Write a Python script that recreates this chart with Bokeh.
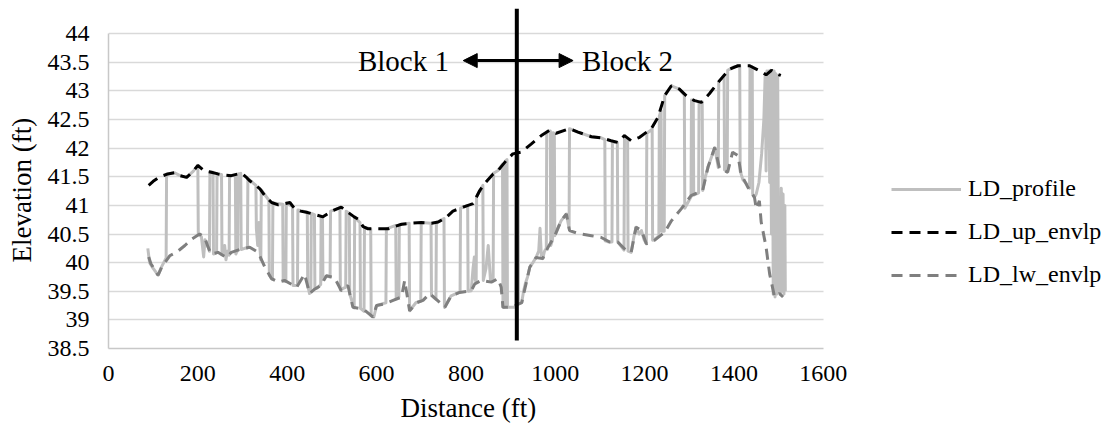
from bokeh.plotting import figure
from bokeh.models import (Range1d, FixedTicker, Legend, LegendItem, Arrow,
                          NormalHead, Label, Title)
from bokeh.embed import file_html
from bokeh.resources import INLINE

# ---------------- data ----------------
up_x = [90, 100, 115, 133, 148, 160, 175, 190, 200, 215, 230, 245, 260, 275, 290,
        298, 310, 316, 330, 339, 350, 365, 380, 395, 406, 417, 430, 443, 462, 480,
        490, 503, 521, 536, 550, 559, 570, 581, 603, 626, 640, 656, 678, 700, 723,
        738, 756, 771, 797, 816, 831, 842, 861, 872, 890, 905, 924, 946, 969, 987,
        1002, 1032, 1051, 1081, 1103, 1125, 1140, 1155, 1170, 1189, 1215, 1230,
        1245, 1260, 1278, 1297, 1312, 1327, 1345, 1368, 1390, 1409, 1435, 1450,
        1465, 1472, 1484, 1495, 1505]
up_y = [41.35, 41.42, 41.5, 41.55, 41.57, 41.52, 41.49, 41.6, 41.7, 41.6, 41.58,
        41.55, 41.53, 41.52, 41.55, 41.56, 41.48, 41.43, 41.35, 41.29, 41.17, 41.05,
        41.01, 41.03, 41.05, 40.94, 40.9, 40.88, 40.84, 40.8, 40.85, 40.91, 40.97,
        40.88, 40.8, 40.76, 40.63, 40.59, 40.59, 40.59, 40.63, 40.67, 40.69, 40.7,
        40.69, 40.71, 40.79, 40.9, 40.98, 41.03, 41.26, 41.38, 41.55, 41.61, 41.78,
        41.9, 41.93, 42.07, 42.22, 42.31, 42.26, 42.34, 42.28, 42.2, 42.18, 42.13,
        42.1, 42.22, 42.13, 42.19, 42.34, 42.54, 42.92, 43.09, 43.03, 42.89, 42.83,
        42.8, 42.95, 43.18, 43.38, 43.44, 43.44, 43.38, 43.32, 43.28, 43.36, 43.3,
        43.27]

lw_x = [90, 95, 100, 111, 119, 137, 152, 171, 186, 204, 215, 223, 230, 245, 264,
        275, 298, 316, 335, 350, 365, 380, 394, 410, 421, 439, 450, 462, 475, 488,
        506, 521, 536, 547, 570, 592, 600, 618, 637, 656, 663, 674, 690, 704, 719,
        735, 753, 767, 786, 812, 820, 835, 857, 872, 879, 883, 902, 925, 943, 957,
        972, 984, 999, 1013, 1025, 1032, 1051, 1081, 1103, 1122, 1140, 1159, 1170,
        1181, 1193, 1204, 1222, 1245, 1260, 1282, 1304, 1330, 1342, 1357, 1368,
        1386, 1397, 1409, 1416, 1431, 1446, 1450, 1457, 1461, 1472, 1480, 1491,
        1502, 1510]
lw_y = [40.1, 39.98, 39.92, 39.78, 39.92, 40.12, 40.18, 40.3, 40.41, 40.5, 40.44,
        40.27, 40.15, 40.18, 40.09, 40.18, 40.24, 40.27, 40.18, 39.92, 39.72, 39.66,
        39.69, 39.62, 39.57, 39.8, 39.46, 39.54, 39.6, 39.77, 39.74, 39.51, 39.6,
        39.22, 39.19, 39.05, 39.25, 39.28, 39.34, 39.4, 39.69, 39.16, 39.3, 39.34,
        39.46, 39.35, 39.22, 39.42, 39.48, 39.51, 39.63, 39.69, 39.66, 39.72, 39.57,
        39.22, 39.22, 39.3, 39.92, 40.09, 40.07, 40.27, 40.47, 40.73, 40.85, 40.56,
        40.51, 40.47, 40.44, 40.36, 40.36, 40.21, 40.18, 40.62, 40.56, 40.33, 40.39,
        40.53, 40.73, 40.94, 41.17, 41.26, 41.67, 42.01, 41.64, 41.58, 41.93, 41.87,
        41.55, 41.32, 41.14, 40.94, 41.08, 40.71, 40.27, 39.8, 39.4, 39.46, 39.4]

prof_x = [88, 92, 100, 111, 119, 129, 130, 148, 160, 175, 190, 200, 201, 208, 213,
          216, 222, 226, 227, 234, 235, 242, 243, 253, 254, 260, 263, 266, 270, 271,
          284, 285, 289, 290, 296, 297, 305, 311, 312, 330, 331, 334, 337, 339, 341,
          342, 359, 360, 367, 368, 390, 391, 397, 398, 412, 413, 423, 424, 445, 446,
          450, 453, 454, 461, 462, 468, 475, 476, 479, 480, 488, 496, 497, 506, 518,
          519, 525, 531, 532, 539, 540, 546, 550, 551, 563, 564, 572, 573, 587, 588,
          594, 600, 612, 621, 622, 643, 644, 650, 651, 673, 674, 688, 699, 700, 722,
          723, 733, 734, 751, 752, 767, 787, 788, 804, 805, 812, 816, 819, 821, 823,
          824, 838, 839, 845, 850, 855, 861, 862, 872, 882, 883, 887, 888, 892, 893,
          911, 912, 917,
          918, 925, 929, 933, 938, 943, 950, 957, 963, 966, 969, 972, 976, 980, 981,
          989, 990, 994, 995, 998, 999, 1006, 1013, 1020, 1025, 1031, 1032, 1051,
          1081, 1103, 1111, 1112, 1120, 1127, 1128, 1139, 1140, 1148, 1154, 1155,
          1162, 1163, 1170, 1176, 1181, 1188, 1193, 1199, 1204, 1205, 1217, 1218,
          1225, 1232, 1233, 1237, 1238, 1244, 1245, 1260, 1278, 1289, 1290, 1297,
          1304, 1305, 1309, 1310, 1316, 1321, 1322, 1329, 1330, 1336, 1342, 1350,
          1357, 1362, 1365, 1366, 1378, 1379, 1385, 1386, 1400, 1413, 1414, 1420,
          1428, 1435, 1436, 1441, 1442, 1446, 1450, 1456, 1462, 1467, 1470, 1472,
          1474, 1476, 1478, 1480, 1482, 1484, 1486, 1488, 1490, 1492, 1494, 1496,
          1498, 1500, 1502, 1504, 1506, 1508, 1510, 1512, 1514, 1515]
prof_y = [40.25, 40.0, 39.9, 39.78, 39.93, 40.08, 41.55, 41.57, 41.52, 41.49, 41.6,
          41.7, 40.5, 40.45, 40.1, 40.4, 40.3, 40.2, 41.59, 41.58, 40.15, 40.17,
          41.55, 41.54, 40.14, 40.3, 40.05, 40.2, 40.13, 41.52, 41.53, 40.15, 40.22,
          41.55, 41.56, 40.23, 40.25, 40.26, 41.47, 41.35, 40.6, 40.3, 40.7, 40.25,
          40.05, 41.27, 41.09, 39.78, 39.71, 41.04, 41.02, 39.68, 39.67, 41.04,
          40.98, 39.6, 39.6, 40.92, 40.88, 39.6, 39.46, 39.5, 40.86, 40.84, 39.54,
          39.56, 39.62, 40.81, 40.8, 39.7, 39.77, 39.75, 40.9, 40.92, 40.96, 39.52,
          39.55, 39.57, 40.9, 40.86, 39.45, 39.3, 39.21, 40.79, 40.7, 39.2, 39.15,
          40.62, 40.59, 39.07, 39.05, 39.25, 39.28, 39.3, 40.59, 40.65, 39.37, 39.4,
          40.66, 40.69, 39.16, 39.3, 39.33, 40.7, 40.69, 39.43, 39.36, 40.7, 40.77,
          39.22, 39.42, 39.49, 40.95, 41.0, 39.5, 39.51, 39.9, 40.1, 39.7, 39.65,
          41.15, 41.35, 39.69, 39.9, 40.3, 39.7, 39.68, 41.56, 41.61, 41.72, 39.22,
          39.22, 41.77, 41.8, 39.22, 39.22, 41.91, 41.92,
          39.3, 39.3, 39.5, 39.63, 39.75, 39.92, 40.0, 40.09, 40.2, 40.6, 40.1,
          40.07, 40.2, 40.25, 42.28, 42.3, 40.3, 40.4, 42.27, 42.26, 40.47, 40.6,
          40.73, 40.8, 40.85, 40.6, 42.34, 42.28, 42.2, 42.18, 42.15, 40.38, 40.36,
          40.36, 42.12, 42.1, 40.36, 40.28, 40.22, 42.22, 42.15, 40.2, 40.18, 40.45,
          40.62, 40.5, 40.56, 40.4, 40.33, 42.26, 42.33, 40.39, 40.42, 40.47, 42.56,
          42.66, 40.55, 40.55, 42.92, 43.09, 43.03, 42.93, 40.95, 41.05, 41.15,
          42.84, 42.83, 41.18, 41.2, 41.22, 42.8, 42.81, 41.26, 41.5, 41.67, 41.85,
          42.01, 41.8, 41.66, 43.16, 43.27, 41.62, 41.58, 43.36, 43.42, 43.44, 41.6,
          41.45, 41.38, 41.3, 43.44, 43.42, 41.2, 41.14, 41.2, 41.4, 41.9, 42.5,
          43.3, 41.6, 43.35, 42.0, 43.35, 41.4, 43.36, 40.5, 43.35, 39.45, 43.35,
          39.4, 43.3, 39.45, 43.27, 39.5, 40.4, 39.45, 41.3, 39.5, 41.2, 39.45, 41.0,
          39.5]

x_ticks = [0, 200, 400, 600, 800, 1000, 1200, 1400, 1600]
x_tick_labels = ["0", "200", "400", "600", "800", "1000", "1200", "1400", "1600"]
y_ticks = [38.5, 39, 39.5, 40, 40.5, 41, 41.5, 42, 42.5, 43, 43.5, 44]
y_tick_labels = ["38.5", "39", "39.5", "40", "40.5", "41", "41.5", "42", "42.5",
                 "43", "43.5", "44"]
series_names = ["LD_profile", "LD_up_envlp", "LD_lw_envlp"]
x_title = "Distance (ft)"
y_title = "Elevation (ft)"

block_boundary = 914
divider_bottom, divider_top = 38.64, 44.44
arrow_y = 43.53
block1_arrow_end, block2_arrow_end = 794, 1040
block1_text_x, block2_text_x = 762, 1060
block_labels = ["Block 1", "Block 2"]

# view extent to the right of the axis (room for the legend inside the frame)
x_view_end = 2234

FONT = "Liberation Serif"

# ---------------- figure ----------------
p = figure(width=1106, height=429, output_backend="svg", toolbar_location=None,
           x_range=Range1d(0, x_view_end), y_range=Range1d(38.5, divider_top),
           min_border_left=107, min_border_right=0, min_border_top=8,
           min_border_bottom=81)
p.outline_line_color = None
p.background_fill_color = "white"
p.border_fill_color = "white"

p.xgrid.grid_line_color = None
p.ygrid.grid_line_color = "#D9D9D9"
p.ygrid.grid_line_width = 1.5
try:
    p.ygrid.cross_bounds = (x_ticks[0], x_ticks[-1])
except Exception:
    p.ygrid.visible = False
    p.segment(x0=[x_ticks[0]] * len(y_ticks), x1=[x_ticks[-1]] * len(y_ticks),
              y0=y_ticks, y1=y_ticks, line_color="#D9D9D9", line_width=1.5)

for ax in (p.xaxis[0], p.yaxis[0]):
    ax.axis_line_color = "#C8C8C8"
    ax.axis_line_width = 1.5
    ax.major_tick_line_color = None
    ax.minor_tick_line_color = None
    ax.major_tick_out = 0
    ax.major_tick_in = 0
    ax.major_label_text_font = FONT
    ax.major_label_text_font_size = "24px"
    ax.major_label_text_color = "#000000"

p.xaxis.ticker = FixedTicker(ticks=x_ticks)
p.yaxis.ticker = FixedTicker(ticks=y_ticks)
p.xaxis.bounds = (x_ticks[0], x_ticks[-1])
p.yaxis.bounds = (y_ticks[0], y_ticks[-1])
p.xaxis.major_label_overrides = {float(t): l for t, l in zip(x_ticks, x_tick_labels)}
p.yaxis.major_label_overrides = {float(t): l for t, l in zip(y_ticks, y_tick_labels)}
p.xaxis.major_label_standoff = 17
p.yaxis.major_label_standoff = 19

# axis titles placed as side titles so that they centre on the 0-1600 / 38.5-44 axes
p.add_layout(Title(text=x_title, align="left", offset=292, vertical_align="bottom",
                   standoff=14, text_font=FONT, text_font_size="27px",
                   text_font_style="normal", text_color="#000000"), "below")
p.add_layout(Title(text=y_title, align="left", offset=86, vertical_align="top",
                   standoff=12, text_font=FONT, text_font_size="27px",
                   text_font_style="normal", text_color="#000000"), "left")

r_prof = p.line(prof_x, prof_y, line_color="#BFBFBF", line_width=3,
                line_join="round")
r_up = p.line(up_x, up_y, line_color="#000000", line_width=3,
              line_dash="11 7")
r_lw = p.line(lw_x, lw_y, line_color="#7F7F7F", line_width=3,
              line_dash="11 7")

legend = Legend(items=[LegendItem(label=series_names[0], renderers=[r_prof]),
                       LegendItem(label=series_names[1], renderers=[r_up]),
                       LegendItem(label=series_names[2], renderers=[r_lw])],
                location=(783, 60), orientation="vertical",
                label_text_font=FONT, label_text_font_size="24px",
                label_text_color="#000000",
                glyph_width=70, glyph_height=20, label_height=20,
                label_standoff=7, spacing=16, padding=0, margin=0,
                border_line_color=None, background_fill_alpha=0)
p.add_layout(legend, "center")

# divider and arrows
p.add_layout(Arrow(end=None, x_start=block_boundary, x_end=block_boundary,
                   y_start=divider_bottom, y_end=divider_top,
                   line_color="black", line_width=4))
p.add_layout(Arrow(end=NormalHead(size=14, fill_color="black", line_color="black"),
                   x_start=block_boundary, y_start=arrow_y,
                   x_end=block1_arrow_end, y_end=arrow_y,
                   line_color="black", line_width=3))
p.add_layout(Arrow(end=NormalHead(size=14, fill_color="black", line_color="black"),
                   x_start=block_boundary, y_start=arrow_y,
                   x_end=block2_arrow_end, y_end=arrow_y,
                   line_color="black", line_width=3))
p.add_layout(Label(x=block1_text_x, y=arrow_y, text=block_labels[0],
                   text_align="right", text_baseline="middle",
                   text_font=FONT, text_font_size="29px", text_color="black"))
p.add_layout(Label(x=block2_text_x, y=arrow_y, text=block_labels[1],
                   text_align="left", text_baseline="middle",
                   text_font=FONT, text_font_size="29px", text_color="black"))

open("out.html", "w").write(file_html(p, INLINE))
